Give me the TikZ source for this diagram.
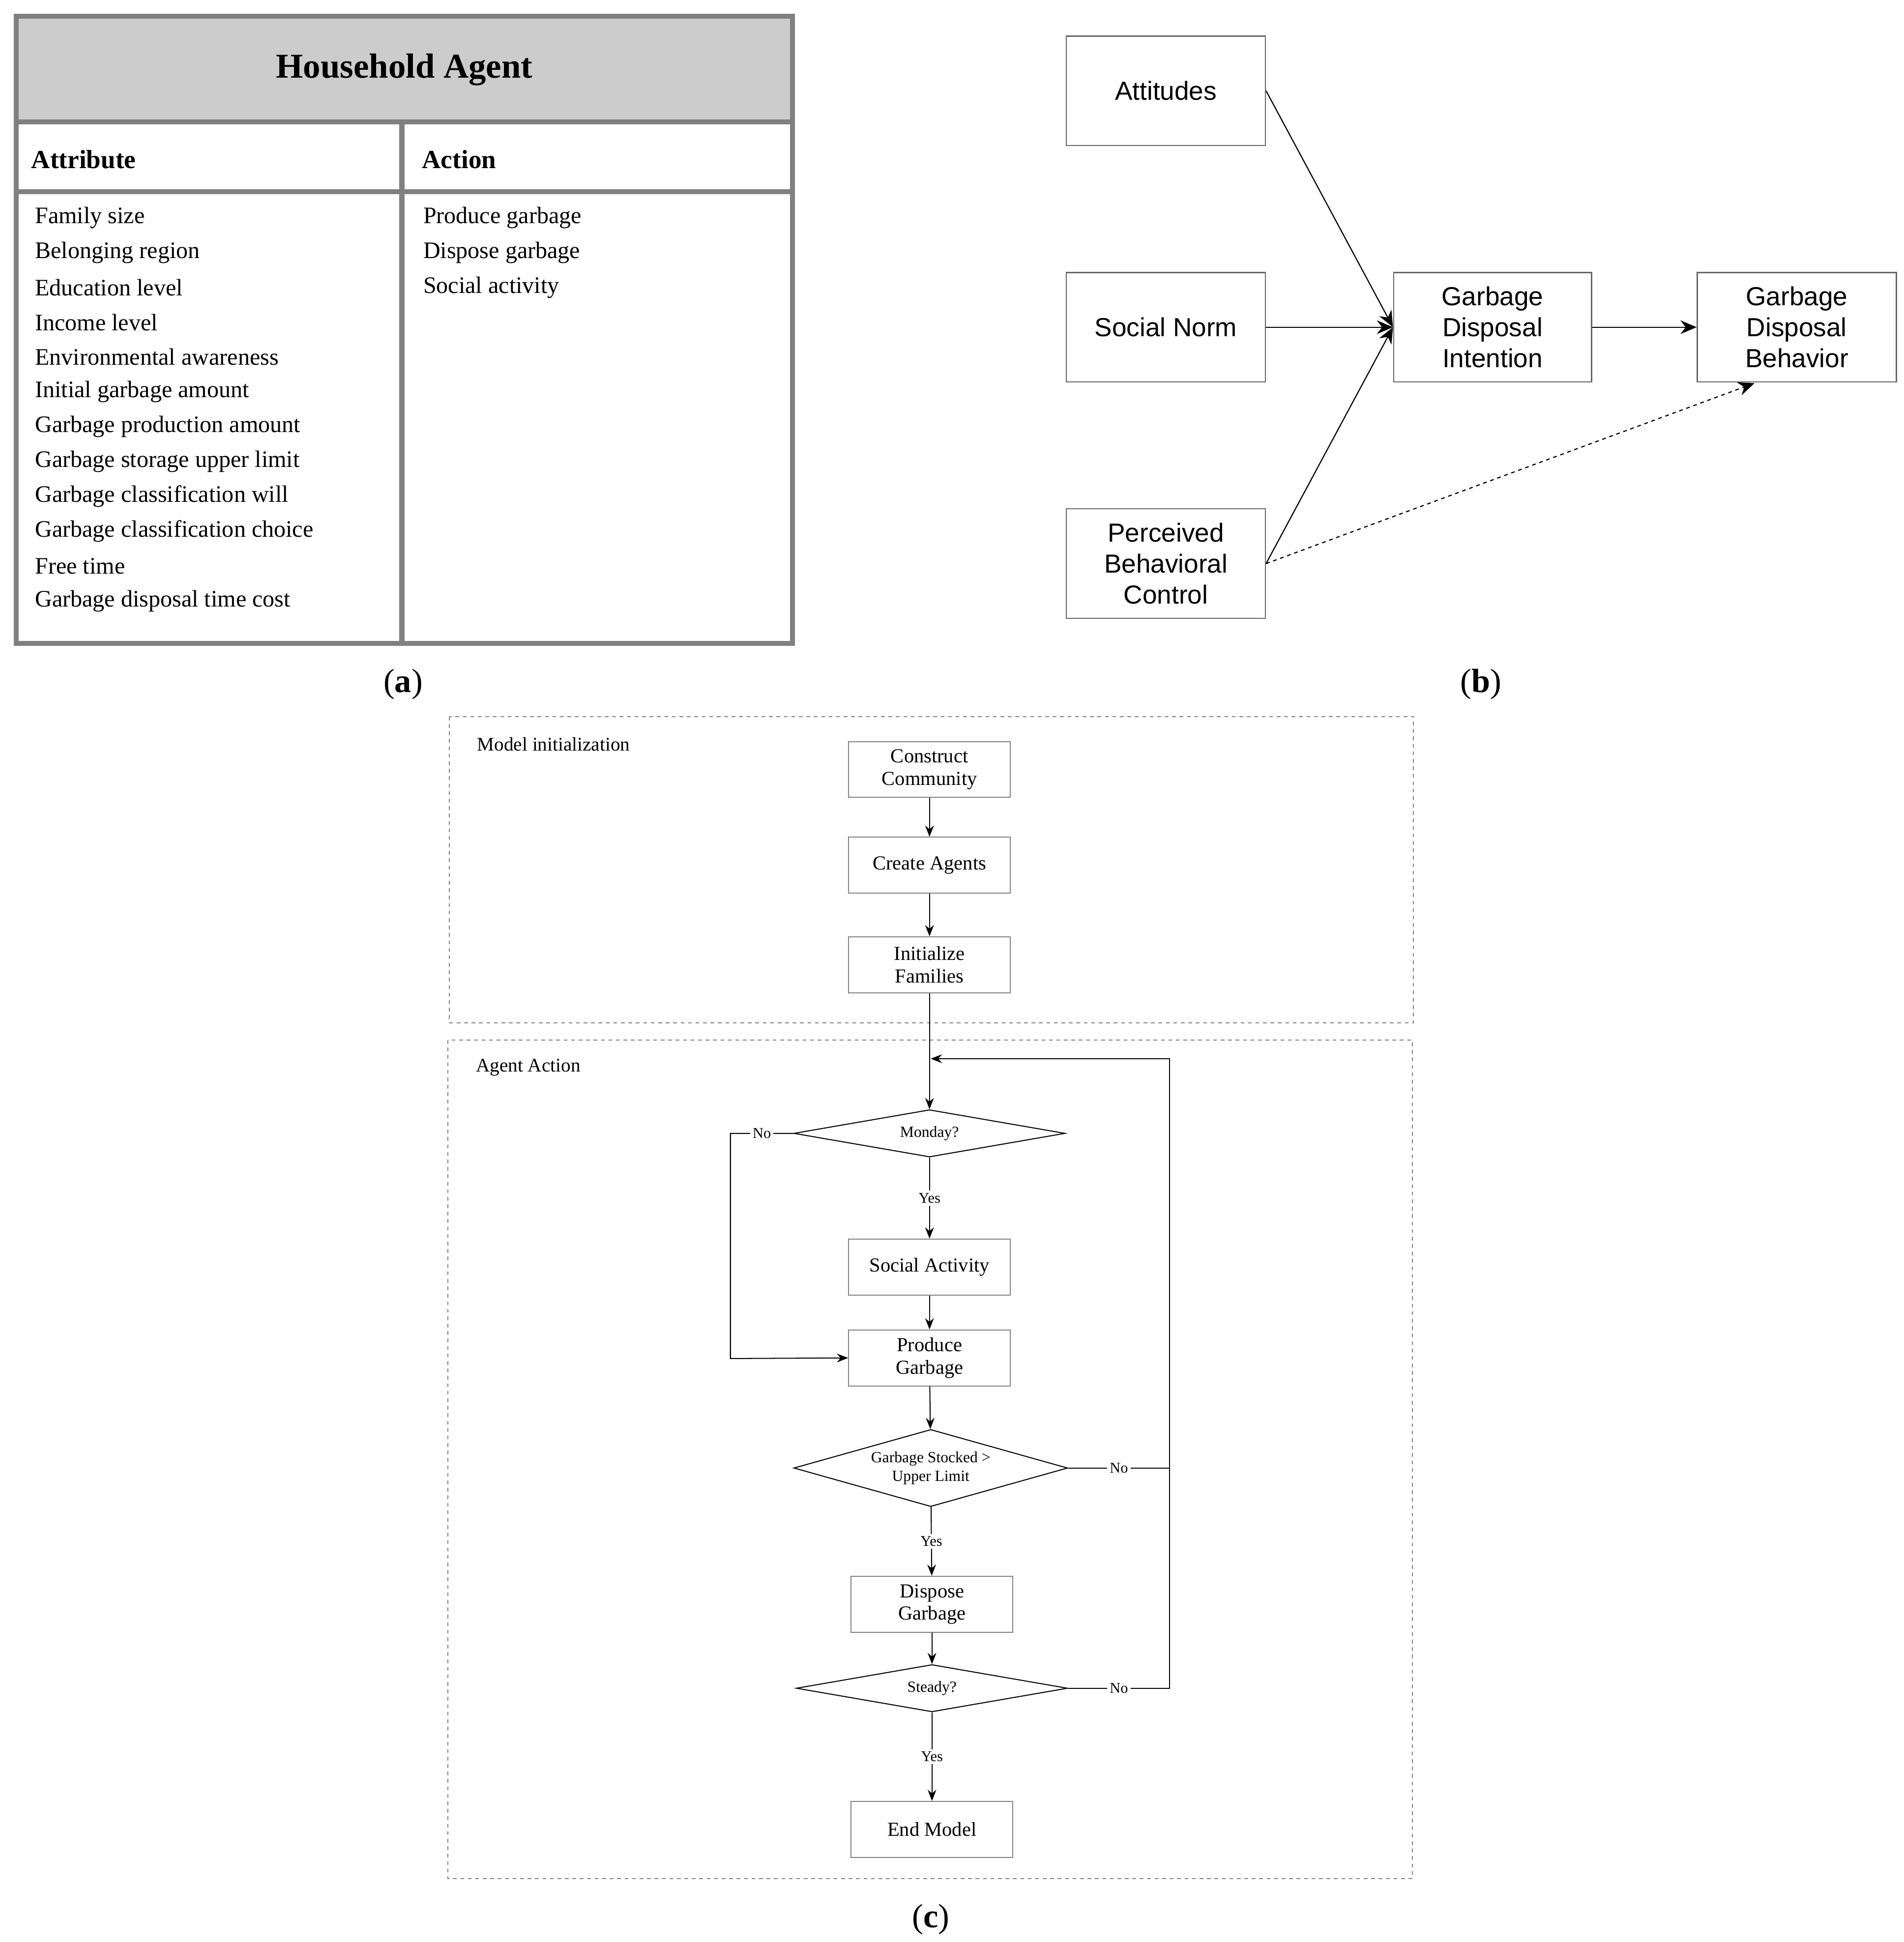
\documentclass[tikz,border=0pt]{standalone}
\usepackage{fontspec}
\setmainfont{Liberation Serif}
\newfontfamily\sff{Liberation Sans}
\usetikzlibrary{shapes.geometric,arrows.meta}
\definecolor{bord}{HTML}{808080}
\definecolor{hdr}{HTML}{CCCCCC}
\begin{document}
\begin{tikzpicture}[x=1pt,y=-1pt,
  bbox/.style={draw=black!60,line width=1pt,minimum width=160pt,minimum height=88pt,align=center,font=\sff\fontsize{21}{25}\selectfont,inner sep=2pt},
  fbox/.style={draw=bord,line width=0.8pt,minimum width=130pt,minimum height=45pt,align=center,font=\fontsize{16}{18}\selectfont,inner sep=1pt},
  dia/.style={draw=black,line width=0.8pt,diamond,inner sep=0pt,align=center,font=\fontsize{12.5}{15}\selectfont},
  lab/.style={fill=white,font=\fontsize{12}{13}\selectfont,inner sep=2pt},
  arr/.style={-{Stealth[length=13pt,width=11pt]},line width=0.9pt},
  farr/.style={-{Stealth[length=9pt,width=7pt]},line width=0.8pt},
  item/.style={anchor=west,font=\fontsize{19}{21}\selectfont,inner sep=0pt}]
\useasboundingbox (0,0) rectangle (1530,1561);
% (a)
\fill[hdr] (13,13) rectangle (637,98);
\draw[bord,line width=4pt] (13,13) rectangle (637,517);
\draw[bord,line width=4pt] (13,98) -- (637,98);
\draw[bord,line width=4pt] (13,154) -- (637,154);
\draw[bord,line width=4pt] (323,98) -- (323,517);
\node[font=\bfseries\fontsize{28}{30}\selectfont] (ttl) at (325,56) {Household Agent};
\node[item,font=\bfseries\fontsize{21}{23}\selectfont] (att) at (25,128) {Attribute};
\node[item,font=\bfseries\fontsize{21}{23}\selectfont] (act) at (339,128) {Action};
\foreach \t [count=\i from 0] in {Family size,Belonging region,Education level,Income level,Environmental awareness,Initial garbage amount,Garbage production amount,Garbage storage upper limit,Garbage classification will,Garbage classification choice,Free time,Garbage disposal time cost}
  \node[item] (a\i) at (28,175+28*\i) {\t};
\foreach \t [count=\i from 0] in {Produce garbage,Dispose garbage,Social activity}
  \node[item] (b\i) at (340,175+28*\i) {\t};
\node[font=\fontsize{27}{29}\selectfont] (la) at (324,550) {(\textbf{a})};
% (b)
\node[bbox] (att2) at (937,73) {Attitudes};
\node[bbox] (sn) at (937,263) {Social Norm};
\node[bbox] (pbc) at (937,453) {Perceived\\Behavioral\\Control};
\node[bbox,minimum width=159pt] (gdi) at (1199.5,263) {Garbage\\Disposal\\Intention};
\node[bbox] (gdb) at (1444,263) {Garbage\\Disposal\\Behavior};
\draw[arr] (att2.east) -- (gdi.west);
\draw[arr] (sn.east) -- (gdi.west);
\draw[arr] (pbc.east) -- (gdi.west);
\draw[arr] (gdi.east) -- (gdb.west);
\draw[arr,dashed] (pbc.east) -- (1410,308);
\node[font=\fontsize{27}{29}\selectfont] (lb) at (1190,550) {(\textbf{b})};
% (c)
\draw[bord,dashed,line width=0.8pt] (361,576) rectangle (1136,822);
\draw[bord,dashed,line width=0.8pt] (360,836) rectangle (1135,1510);
\node[anchor=west,font=\fontsize{15.5}{17}\selectfont] (mi) at (380,598) {Model initialization};
\node[anchor=west,font=\fontsize{15.5}{17}\selectfont] (aa) at (379,858) {Agent Action};
\node[fbox] (cc) at (747,618.5) {Construct\\Community};
\node[fbox] (ca) at (747,695.5) {Create Agents};
\node[fbox] (if) at (747,775.5) {Initialize\\Families};
\node[dia,aspect=5.7,minimum width=218pt,minimum height=38pt] (mon) at (747,911) {Monday?};
\node[fbox] (sa) at (747,1018.5) {Social Activity};
\node[fbox] (pg) at (747,1091.5) {Produce\\Garbage};
\node[dia,aspect=3.55,minimum width=220pt,minimum height=62pt] (gs) at (748,1180) {Garbage Stocked >\\Upper Limit};
\node[fbox] (dg) at (749,1289.5) {Dispose\\Garbage};
\node[dia,aspect=5.7,minimum width=218pt,minimum height=38pt] (st) at (749,1357) {Steady?};
\node[fbox] (em) at (749,1470.5) {End Model};
\draw[farr] (cc) -- (ca);
\draw[farr] (ca) -- (if);
\draw[farr] (if) -- (mon);
\draw[farr] (mon) -- node[lab]{Yes} (sa);
\draw[farr] (sa) -- (pg);
\draw[farr] (pg) -- (gs);
\draw[farr] (gs) -- node[lab]{Yes} (dg);
\draw[farr] (dg) -- (st);
\draw[farr] (st) -- node[lab]{Yes} (em);
\coordinate (j) at (748,851);
\coordinate (r1) at (940,1180);
\coordinate (r2) at (940,1357);
\coordinate (r0) at (940,851);
\coordinate (l1) at (587,911);
\coordinate (l2) at (587,1092);
\draw[line width=0.8pt] (gs.east) -- node[lab,pos=0.5]{No} (r1);
\draw[line width=0.8pt] (st.east) -- node[lab,pos=0.5]{No} (r2) -- (r1);
\draw[farr] (r1) -- (r0) -- (j);
\draw[farr] (mon.west) -- node[lab]{No} (l1) -- (l2) -- (pg.west);
\node[font=\fontsize{27}{29}\selectfont] (lc) at (748,1543) {(\textbf{c})};
\end{tikzpicture}
\end{document}
